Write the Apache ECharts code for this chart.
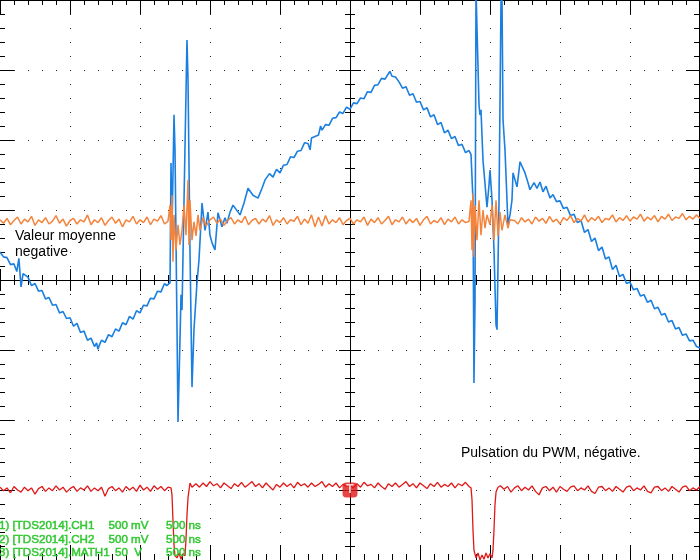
<!DOCTYPE html>
<html><head><meta charset="utf-8">
<script src="https://cdn.jsdelivr.net/npm/echarts@6/dist/echarts.min.js"></script>
<style>html,body{margin:0;padding:0;background:#fff}#c{width:700px;height:560px}</style>
</head><body><div id="c"></div>
<script>
// Units: x in horizontal divisions (500 ns/div, 0 = screen centre), y in vertical divisions.
const xRange = [-5, 5];
const yRange = [-4, 4];

// CH1 (blue)
const blueTrace = [
[-5.0,0.40],[-4.95,0.33],[-4.9,0.32],[-4.85,0.22],[-4.8,0.23],[-4.76,0.12],[-4.73,0.31],[-4.7,-0.10],[-4.67,0.09],[-4.6,0.04],[-4.55,-0.08],[-4.5,-0.05],[-4.45,-0.16],[-4.4,-0.15],[-4.35,-0.27],[-4.3,-0.25],[-4.25,-0.36],[-4.2,-0.35],[-4.15,-0.47],[-4.1,-0.45],[-4.05,-0.55],[-4.0,-0.54],[-3.95,-0.66],[-3.9,-0.62],[-3.85,-0.75],[-3.8,-0.73],[-3.75,-0.86],[-3.7,-0.83],[-3.65,-0.95],[-3.62,-0.90],[-3.6,-0.99],[-3.58,-0.93],
[-3.55,-0.86],[-3.5,-0.89],[-3.45,-0.78],[-3.4,-0.81],[-3.35,-0.70],[-3.3,-0.73],[-3.25,-0.61],[-3.2,-0.64],[-3.15,-0.52],[-3.1,-0.56],[-3.05,-0.44],[-3.0,-0.47],[-2.95,-0.36],[-2.9,-0.37],[-2.85,-0.26],[-2.8,-0.27],[-2.75,-0.16],[-2.7,-0.17],[-2.65,-0.05],[-2.62,-0.08],
[-2.571,-0.04],[-2.557,1.67],[-2.543,0.71],[-2.514,2.36],[-2.5,1.86],[-2.471,-0.71],[-2.457,-2.03],[-2.429,-0.86],[-2.414,-0.21],[-2.4,-0.43],[-2.371,1.14],[-2.329,3.43],[-2.314,2.86],[-2.286,0.43],[-2.257,-1.53],[-2.229,-0.71],[-2.186,-0.04],[-2.157,0.29],[-2.114,1.10],[-2.071,0.71],[-2.029,0.97],[-2.0,0.64],[-1.971,0.53],[-1.929,0.43],[-1.886,0.96],[-1.829,0.76],[-1.786,0.89],[-1.757,0.81],[-1.714,0.97],[-1.671,1.07],[-1.571,0.93],[-1.514,1.10],[-1.457,1.31],[-1.386,1.21],[-1.314,1.17],[-1.257,1.31],[-1.214,1.43],
[-1.2,1.44],[-1.15,1.52],[-1.1,1.47],[-1.05,1.58],[-1.0,1.53],[-0.95,1.64],[-0.9,1.65],[-0.85,1.76],[-0.8,1.75],[-0.75,1.84],[-0.7,1.85],[-0.65,1.96],[-0.6,1.95],[-0.57,1.86],[-0.55,2.03],[-0.5,2.05],[-0.45,2.07],[-0.42,2.20],[-0.4,2.14],[-0.35,2.22],[-0.3,2.21],[-0.25,2.31],[-0.2,2.32],[-0.15,2.40],[-0.1,2.38],[-0.05,2.47],[0,2.44],[0.05,2.53],[0.1,2.52],[0.15,2.60],[0.2,2.59],[0.25,2.69],[0.3,2.68],[0.35,2.78],[0.4,2.79],[0.45,2.88],[0.5,2.87],[0.55,2.95],[0.57,2.98],
[0.6,2.91],[0.65,2.90],[0.7,2.83],[0.75,2.74],[0.8,2.76],[0.85,2.64],[0.9,2.66],[0.95,2.54],[1.0,2.55],[1.05,2.43],[1.1,2.46],[1.15,2.33],[1.2,2.36],[1.25,2.22],[1.3,2.25],[1.35,2.10],[1.4,2.14],[1.45,2.02],[1.5,2.05],[1.55,1.92],[1.6,1.94],[1.65,1.82],[1.7,1.85],
[1.729,1.79],[1.757,1.14],[1.771,-1.47],[1.786,-0.29],[1.8,4.14],[1.814,4.14],[1.843,2.50],[1.857,2.36],[1.871,2.43],[1.9,1.71],[1.957,1.04],[1.986,1.36],[2.0,1.57],[2.029,1.14],[2.057,0.43],[2.086,-0.64],[2.1,-0.71],[2.129,1.14],[2.157,3.96],[2.171,4.07],[2.186,2.29],[2.214,1.86],[2.257,0.79],[2.286,0.93],[2.314,1.14],[2.329,1.53],[2.386,1.33],[2.429,1.69],[2.457,1.71],[2.5,1.53],[2.543,1.39],[2.571,1.29],[2.629,1.39],[2.671,1.31],[2.714,1.40],[2.757,1.26],[2.8,1.34],[2.857,1.17],
[2.9,1.22],[2.95,1.12],[3.0,1.13],[3.05,1.02],[3.1,1.04],[3.15,0.92],[3.2,0.94],[3.25,0.82],[3.3,0.85],[3.35,0.68],[3.4,0.72],[3.45,0.55],[3.5,0.60],[3.55,0.42],[3.6,0.47],[3.65,0.30],[3.7,0.33],[3.75,0.15],[3.8,0.21],[3.85,0.05],[3.9,0.08],[3.95,-0.05],[4.0,-0.03],[4.05,-0.14],[4.1,-0.12],[4.15,-0.23],[4.2,-0.21],[4.25,-0.32],[4.3,-0.29],[4.35,-0.41],[4.4,-0.39],[4.45,-0.50],[4.5,-0.48],[4.55,-0.60],[4.6,-0.58],[4.65,-0.70],[4.7,-0.68],[4.75,-0.79],[4.8,-0.77],[4.85,-0.87],[4.9,-0.86],[4.95,-0.95],[5.0,-0.97]
];

// CH2 (orange)
const orangeTrace = [
[-5.0,0.86],[-4.95,0.81],[-4.9,0.88],[-4.85,0.79],[-4.8,0.85],[-4.75,0.90],[-4.7,0.80],[-4.65,0.87],[-4.6,0.83],[-4.55,0.91],[-4.5,0.78],[-4.45,0.86],[-4.4,0.82],[-4.35,0.89],[-4.3,0.80],[-4.25,0.84],[-4.2,0.92],[-4.15,0.81],[-4.1,0.87],[-4.05,0.77],[-4.0,0.85],[-3.95,0.88],[-3.9,0.80],[-3.85,0.86],[-3.8,0.83],[-3.75,0.93],[-3.7,0.79],[-3.65,0.86],[-3.6,0.82],[-3.55,0.89],[-3.5,0.78],[-3.45,0.85],[-3.4,0.90],[-3.35,0.81],[-3.3,0.87],[-3.25,0.76],[-3.2,0.86],[-3.15,0.83],[-3.1,0.91],[-3.05,0.80],[-3.0,0.86],[-2.95,0.82],[-2.9,0.90],[-2.85,0.79],[-2.8,0.87],[-2.75,0.84],[-2.7,0.92],[-2.65,0.80],
[-2.6,0.84],[-2.571,1.07],[-2.557,0.57],[-2.543,1.21],[-2.529,0.26],[-2.514,0.93],[-2.486,0.43],[-2.457,0.79],[-2.429,0.50],[-2.4,0.71],[-2.371,1.07],[-2.343,0.64],[-2.314,1.43],[-2.3,0.50],[-2.286,1.14],[-2.257,0.57],[-2.229,0.83],[-2.2,0.63],[-2.171,0.93],[-2.143,0.71],[-2.1,0.89],[-2.057,0.77],[-2.0,0.86],
[-1.95,0.90],[-1.9,0.81],[-1.85,0.87],[-1.8,0.78],[-1.75,0.85],[-1.7,0.89],[-1.65,0.80],[-1.6,0.86],[-1.55,0.82],[-1.5,0.91],[-1.45,0.79],[-1.4,0.85],[-1.35,0.88],[-1.3,0.80],[-1.25,0.87],[-1.2,0.83],[-1.15,0.92],[-1.1,0.78],[-1.05,0.86],[-1.0,0.82],[-0.95,0.89],[-0.9,0.80],[-0.85,0.86],[-0.8,0.84],[-0.75,0.91],[-0.7,0.79],[-0.65,0.87],[-0.6,0.81],[-0.55,0.93],[-0.5,0.76],[-0.45,0.90],[-0.4,0.77],[-0.35,0.92],[-0.3,0.80],[-0.25,0.86],[-0.2,0.82],[-0.15,0.89],[-0.1,0.79],[-0.05,0.85],[0.0,0.88],[0.05,0.80],[0.1,0.86],[0.15,0.83],[0.2,0.90],[0.25,0.78],[0.3,0.87],[0.35,0.82],[0.4,0.89],[0.45,0.80],[0.5,0.85],[0.55,0.91],[0.6,0.79],[0.65,0.86],[0.7,0.83],[0.75,0.90],[0.8,0.80],[0.85,0.87],[0.9,0.82],[0.95,0.88],[1.0,0.78],[1.05,0.86],[1.1,0.91],[1.15,0.80],[1.2,0.85],[1.25,0.82],[1.3,0.89],[1.35,0.79],[1.4,0.87],[1.45,0.83],[1.5,0.90],[1.55,0.80],[1.6,0.86],[1.65,0.82],
[1.7,0.84],[1.729,1.14],[1.743,0.43],[1.757,1.24],[1.771,0.33],[1.786,1.07],[1.814,0.57],[1.843,1.14],[1.871,0.64],[1.9,1.0],[1.929,0.74],[1.957,0.93],[2.0,0.79],[2.029,1.07],[2.057,0.57],[2.086,1.14],[2.114,0.63],[2.143,0.97],[2.171,0.71],[2.214,0.93],[2.257,0.74],[2.286,0.86],
[2.35,0.85],[2.4,0.80],[2.45,0.89],[2.5,0.83],[2.55,0.87],[2.6,0.80],[2.65,0.90],[2.7,0.84],[2.75,0.88],[2.8,0.81],[2.85,0.91],[2.9,0.83],[2.95,0.87],[3.0,0.80],[3.05,0.89],[3.1,0.85],[3.15,0.92],[3.2,0.82],[3.25,0.88],[3.3,0.84],[3.35,0.93],[3.4,0.83],[3.45,0.89],[3.5,0.85],[3.55,0.91],[3.6,0.82],[3.65,0.88],[3.7,0.86],[3.75,0.93],[3.8,0.83],[3.85,0.89],[3.9,0.85],[3.95,0.92],[4.0,0.84],[4.05,0.90],[4.1,0.87],[4.15,0.94],[4.2,0.84],[4.25,0.90],[4.3,0.86],[4.35,0.92],[4.4,0.83],[4.45,0.91],[4.5,0.87],[4.55,0.94],[4.6,0.85],[4.65,0.90],[4.7,0.88],[4.75,0.95],[4.8,0.86],[4.85,0.91],[4.9,0.87],[4.95,0.93],[5.0,0.88]
];

// MATH1 (red, PWM)
const redTrace = [
[-5.0,-2.96],[-4.95,-3.01],[-4.9,-2.97],[-4.85,-3.04],[-4.8,-2.95],[-4.75,-3.00],[-4.7,-3.03],[-4.65,-2.96],[-4.6,-3.01],[-4.55,-2.97],[-4.5,-3.06],[-4.45,-2.98],[-4.4,-2.95],[-4.35,-3.02],[-4.3,-2.97],[-4.25,-3.01],[-4.2,-2.94],[-4.15,-3.00],[-4.1,-2.96],[-4.05,-3.03],[-4.0,-2.98],[-3.95,-2.95],[-3.9,-3.02],[-3.85,-2.97],[-3.8,-3.00],[-3.75,-2.94],[-3.7,-3.02],[-3.65,-2.97],[-3.6,-3.01],[-3.55,-2.96],[-3.5,-3.09],[-3.45,-2.98],[-3.4,-2.95],[-3.35,-3.01],[-3.3,-2.97],[-3.25,-3.03],[-3.2,-2.95],[-3.15,-3.00],[-3.1,-2.96],[-3.05,-3.02],[-3.0,-2.93],[-2.95,-3.00],[-2.9,-2.96],[-2.85,-3.02],[-2.8,-2.94],[-2.75,-2.99],[-2.7,-2.95],[-2.65,-3.01],[-2.6,-2.96],
[-2.557,-2.97],[-2.543,-3.07],[-2.529,-3.43],[-2.514,-3.79],[-2.5,-3.94],[-2.471,-3.97],[-2.443,-3.90],[-2.414,-3.99],[-2.386,-3.91],[-2.357,-3.94],[-2.343,-3.71],[-2.329,-3.36],[-2.314,-3.11],[-2.286,-2.90],[-2.257,-2.96],
[-2.2,-2.91],[-2.15,-2.96],[-2.1,-2.90],[-2.05,-2.95],[-2.0,-2.88],[-1.95,-2.94],[-1.9,-2.91],[-1.85,-2.97],[-1.8,-2.90],[-1.75,-2.94],[-1.7,-2.98],[-1.65,-2.91],[-1.6,-2.95],[-1.55,-2.89],[-1.5,-2.96],[-1.45,-2.92],[-1.4,-2.88],[-1.35,-2.95],[-1.3,-2.91],[-1.25,-2.97],[-1.2,-2.90],[-1.15,-2.95],[-1.1,-3.00],[-1.05,-2.92],[-1.0,-2.96],[-0.95,-2.90],[-0.9,-2.95],[-0.85,-2.91],[-0.8,-2.97],[-0.75,-2.89],[-0.7,-2.94],[-0.65,-2.91],[-0.6,-2.96],[-0.55,-2.90],[-0.5,-2.95],[-0.45,-2.92],[-0.4,-2.88],[-0.35,-2.96],[-0.3,-2.91],[-0.25,-2.95],[-0.2,-2.90],[-0.15,-2.97],[-0.1,-2.92],[-0.05,-2.95],[0.0,-2.93],[0.05,-2.97],[0.1,-2.91],[0.15,-2.96],[0.2,-2.89],[0.25,-2.94],[0.3,-2.92],[0.35,-2.97],[0.4,-2.90],[0.45,-2.95],[0.5,-2.99],[0.55,-2.91],[0.6,-2.95],[0.65,-2.90],[0.7,-2.96],[0.75,-2.92],[0.8,-2.88],[0.85,-2.95],[0.9,-2.91],[0.95,-2.97],[1.0,-2.90],[1.05,-2.94],[1.1,-2.98],[1.15,-2.91],[1.2,-2.95],[1.25,-2.89],[1.3,-2.96],[1.35,-2.92],[1.4,-2.95],[1.45,-2.90],[1.5,-2.97],[1.55,-2.91],[1.6,-2.94],[1.65,-2.89],[1.7,-2.95],
[1.729,-2.97],[1.743,-3.14],[1.757,-3.57],[1.771,-3.86],[1.8,-3.97],[1.829,-3.90],[1.857,-4.0],[1.886,-3.93],[1.914,-3.99],[1.943,-3.90],[1.971,-3.97],[2.0,-3.91],[2.029,-3.97],[2.043,-3.86],[2.057,-3.57],[2.071,-3.21],[2.086,-3.03],[2.114,-2.96],
[2.15,-2.94],[2.2,-2.99],[2.25,-2.95],[2.3,-3.03],[2.35,-2.97],[2.4,-2.94],[2.45,-3.01],[2.5,-2.96],[2.55,-3.00],[2.6,-2.94],[2.65,-3.02],[2.7,-3.07],[2.75,-2.97],[2.8,-2.95],[2.85,-3.01],[2.9,-2.96],[2.95,-3.03],[3.0,-2.95],[3.05,-2.99],[3.1,-3.02],[3.15,-2.96],[3.2,-2.94],[3.25,-3.01],[3.3,-2.97],[3.35,-3.00],[3.4,-2.94],[3.45,-3.02],[3.5,-3.05],[3.55,-2.96],[3.6,-2.95],[3.65,-3.01],[3.7,-2.97],[3.75,-3.02],[3.8,-2.95],[3.85,-2.99],[3.9,-3.03],[3.95,-2.96],[4.0,-2.94],[4.05,-3.01],[4.1,-2.97],[4.15,-3.00],[4.2,-2.94],[4.25,-3.02],[4.3,-3.04],[4.35,-2.96],[4.4,-2.95],[4.45,-3.01],[4.5,-2.97],[4.55,-3.02],[4.6,-2.95],[4.65,-2.99],[4.7,-3.03],[4.75,-2.96],[4.8,-2.94],[4.85,-3.01],[4.9,-2.97],[4.95,-3.00],[5.0,-2.95]
];

// Trigger level marker
const triggerMark = [[0, -3.0]];

const noteLeft = ['Valeur moyenne', 'negative'];
const noteRight = 'Pulsation du PWM, négative.';
const chanNames = ['1) [TDS2014].CH1', '2) [TDS2014].CH2', '3) [TDS2014].MATH1'];
const chanScales = ['500 mV', '500 mV', '50  V'];
const chanTimes = ['500 ns', '500 ns', '500 ns'];

const FONT = '"Liberation Sans", Arial, sans-serif';
const BLACK = '#000';
const GREEN = '#33c833';

function xAx(extra) {
  return Object.assign({type:'value', min:xRange[0], max:xRange[1], interval:1,
    axisLabel:{show:false}, splitLine:{show:false}}, extra);
}
function yAx(extra) {
  return Object.assign({type:'value', min:yRange[0], max:yRange[1], interval:1,
    axisLabel:{show:false}, splitLine:{show:false}}, extra);
}
function dotted() { return {show:true, lineStyle:{type:[1,13], dashOffset:0, cap:'butt', color:'#222', width:1}}; }

const chart = echarts.init(document.getElementById('c'), null, {renderer:'canvas'});
const graphic = [];
noteLeft.forEach((t,i)=>graphic.push({type:'text', x:15, y:236+i*16, z:100,
  style:{text:t, font:'14px '+FONT, fill:'#000', verticalAlign:'middle'}}));
graphic.push({type:'text', x:461, y:453, z:100,
  style:{text:noteRight, font:'14px '+FONT, fill:'#000', verticalAlign:'middle'}});
for (let i=0;i<3;i++) {
  const yy = 525.5 + i*13.8;
  const st = {font:'11.6px '+FONT, fill:GREEN, stroke:GREEN, lineWidth:0.5, verticalAlign:'middle'};
  graphic.push({type:'text', x:-1, y:yy, z:100, style:Object.assign({text:chanNames[i]}, st)});
  graphic.push({type:'text', x:(i===2?115:108.5), y:yy, z:100, style:Object.assign({text:chanScales[i]}, st)});
  graphic.push({type:'text', x:166, y:yy, z:100, style:Object.assign({text:chanTimes[i]}, st)});
}

chart.setOption({
  animation:false,
  backgroundColor:'#fff',
  grid:{left:0, right:0, top:0, bottom:0, containLabel:false},
  xAxis:[
    xAx({position:'bottom', axisLine:{show:true, onZero:true, onZeroAxisIndex:0, lineStyle:{color:BLACK, width:1}},
      axisTick:{show:true, inside:false, length:11, lineStyle:{color:BLACK}},
      minorTick:{show:true, splitNumber:5, length:5, lineStyle:{color:BLACK}}, splitLine:dotted()}),
    xAx({position:'bottom', axisLine:{show:true, onZero:true, onZeroAxisIndex:0, lineStyle:{color:BLACK, width:1}},
      axisTick:{show:true, inside:true, length:11, lineStyle:{color:BLACK}},
      minorTick:{show:true, splitNumber:5, length:5, lineStyle:{color:BLACK}}}),
    xAx({position:'top', axisLine:{show:true, onZero:false, lineStyle:{color:BLACK, width:2}},
      axisTick:{show:true, inside:true, length:14, lineStyle:{color:BLACK}},
      minorTick:{show:true, splitNumber:5, length:5, lineStyle:{color:BLACK}}}),
    xAx({position:'bottom', axisLine:{show:false, onZero:false},
      axisTick:{show:true, inside:true, length:15, lineStyle:{color:BLACK}},
      minorTick:{show:true, splitNumber:5, length:6, lineStyle:{color:BLACK}}})
  ],
  yAxis:[
    yAx({position:'left', axisLine:{show:true, onZero:true, onZeroAxisIndex:0, lineStyle:{color:BLACK, width:1}},
      axisTick:{show:true, inside:false, length:11, lineStyle:{color:BLACK}},
      minorTick:{show:true, splitNumber:5, length:5, lineStyle:{color:BLACK}}, splitLine:dotted()}),
    yAx({position:'left', axisLine:{show:true, onZero:true, onZeroAxisIndex:0, lineStyle:{color:BLACK, width:1}},
      axisTick:{show:true, inside:true, length:11, lineStyle:{color:BLACK}},
      minorTick:{show:true, splitNumber:5, length:5, lineStyle:{color:BLACK}}}),
    yAx({position:'left', axisLine:{show:false, onZero:false},
      axisTick:{show:true, inside:true, length:14, lineStyle:{color:BLACK}},
      minorTick:{show:true, splitNumber:5, length:5, lineStyle:{color:BLACK}}}),
    yAx({position:'right', axisLine:{show:true, onZero:false, lineStyle:{color:BLACK, width:3}},
      axisTick:{show:true, inside:true, length:14, lineStyle:{color:BLACK}},
      minorTick:{show:true, splitNumber:5, length:6, lineStyle:{color:BLACK}}})
  ],
  graphic: graphic,
  series:[
    {type:'line', name:'CH1', data:blueTrace, xAxisIndex:0, yAxisIndex:0, showSymbol:false, symbol:'none',
      lineStyle:{color:'#1a7fe0', width:1.6}, z:3},
    {type:'line', name:'CH2', data:orangeTrace, xAxisIndex:0, yAxisIndex:0, showSymbol:false, symbol:'none',
      lineStyle:{color:'#f4843c', width:1.5}, z:4},
    {type:'line', name:'MATH1', data:redTrace, xAxisIndex:0, yAxisIndex:0, showSymbol:false, symbol:'none',
      lineStyle:{color:'#e01818', width:1.3}, z:5},
    {type:'scatter', name:'trigger', data:triggerMark, xAxisIndex:0, yAxisIndex:0, symbol:'roundRect', symbolSize:[15,15],
      itemStyle:{color:'#e01818'}, z:6,
      label:{show:true, position:'inside', formatter:'T', color:'#fff', fontWeight:'bold', fontSize:12, fontFamily:FONT}}
  ]
});
</script></body></html>
